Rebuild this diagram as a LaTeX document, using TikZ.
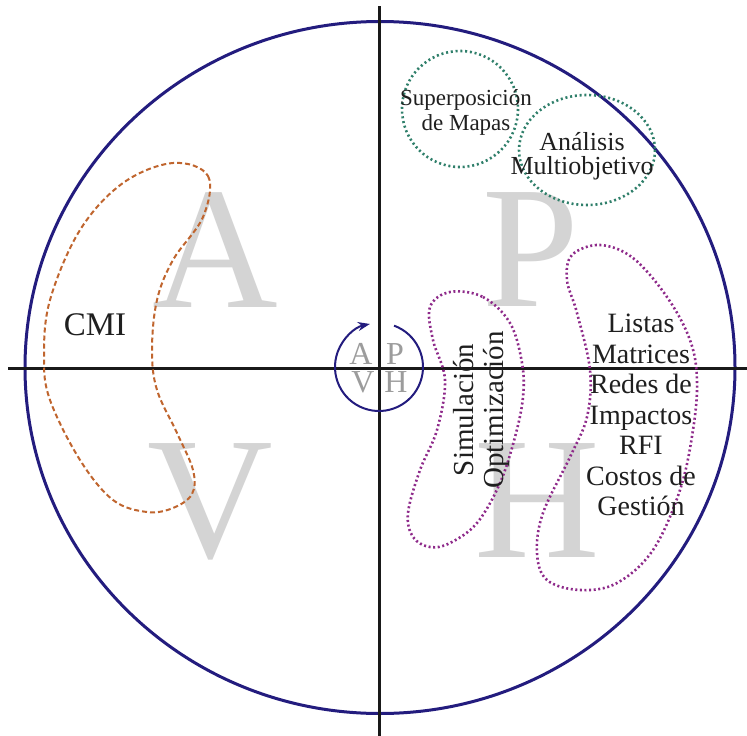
\documentclass[tikz,border=0pt]{standalone}
\usepackage{fontspec}
\setmainfont{Liberation Serif}
\usepackage{tikz}
\usetikzlibrary{arrows.meta, positioning}
\definecolor{ringblue}{HTML}{231C7E}
\definecolor{bigletter}{HTML}{D4D4D4}
\definecolor{smallletter}{HTML}{9C9C9C}
\definecolor{cmiorange}{HTML}{C0652E}
\definecolor{toolpurple}{HTML}{8E2A8A}
\definecolor{mapgreen}{HTML}{2F7F6A}

\begin{document}
\begin{tikzpicture}[x=1pt, y=-1pt, >=Stealth,
  quad/.style={inner sep=0pt, text=bigletter, font=\fontsize{174}{174}\selectfont},
  mini/.style={inner sep=0pt, text=smallletter, font=\fontsize{32}{32}\selectfont},
  axis/.style={line width=3pt, black!90},
  orangeblob/.style={draw=cmiorange, line width=2pt, dash pattern=on 5pt off 3pt},
  purpleblob/.style={draw=toolpurple, line width=2.6pt, dash pattern=on 2pt off 2.6pt},
  greenring/.style={draw=mapgreen, line width=2.6pt, dash pattern=on 2pt off 2.8pt},
  label/.style={align=center, inner sep=0pt, text=black!88}]
\useasboundingbox (0,0) rectangle (747,736);
\fill[white] (0,0) rectangle (747,736);

\node[quad] (qa) at (215,250) {A};
\node[quad] (qp) at (531,250) {P};
\node[quad] (qv) at (210,502) {V};
\node[quad] (qh) at (537,501) {H};

\draw[ringblue, line width=3pt] (380,367.5) ellipse [x radius=355, y radius=346];
\coordinate (top) at (379,6);
\coordinate (bottom) at (379,736);
\coordinate (left) at (8,368);
\coordinate (right) at (747,368);
\draw[axis] (top) -- (bottom);
\draw[axis] (left) -- (right);

\node[mini] (ca) at (361,354) {A};
\node[mini] (cp) at (395,354) {P};
\node[mini] (cv) at (363,382) {V};
\node[mini] (ch) at (396,382) {H};
\draw[ringblue, line width=2pt, ->] (379,367) ++(-70:44) arc[start angle=-70, end angle=258, radius=44];

\draw[orangeblob] plot[smooth cycle, tension=0.6] coordinates {
  (173,163) (208,176) (203,217) (173,260) (157,300) (152,350) (157,390)
  (177,433) (193,470) (192,494) (173,508) (147,512) (113,500) (80,460)
  (50,400) (44,357) (50,300) (80,230) (123,183)};
\node[label, font=\fontsize{33}{33}\selectfont] (cmi) at (95,325) {CMI};

\draw[greenring] (460,109) circle [radius=58];
\draw[greenring] (587,150) ellipse [x radius=68, y radius=55];
\node[label, font=\fontsize{23}{25}\selectfont] (super) at (466,112) {Superposición\\de Mapas};
\node[label, font=\fontsize{26}{24}\selectfont] (multi) at (582,156) {Análisis\\Multiobjetivo};

\draw[purpleblob] plot[smooth cycle, tension=0.6] coordinates {
  (450,292) (483,297) (510,323) (522,363) (523,397) (515,437) (500,483)
  (477,523) (450,543) (430,547) (413,537) (408,513) (420,470) (437,430)
  (445,380) (433,340) (430,307)};
\draw[purpleblob] plot[smooth cycle, tension=0.6] coordinates {
  (600,245) (633,258) (667,297) (690,340) (697,380) (693,430) (680,490)
  (653,550) (617,583) (580,590) (547,580) (537,553) (543,513) (570,457)
  (587,417) (590,370) (577,313) (567,280) (572,255)};
\node[label, rotate=90, font=\fontsize{29}{30}\selectfont] (simopt) at (481,410) {Simulación\\Optimización};
\node[label, font=\fontsize{28}{30.5}\selectfont] (lists) at (641,415) {Listas\\Matrices\\Redes de\\Impactos\\RFI\\Costos de\\Gestión};
\end{tikzpicture}
\end{document}
